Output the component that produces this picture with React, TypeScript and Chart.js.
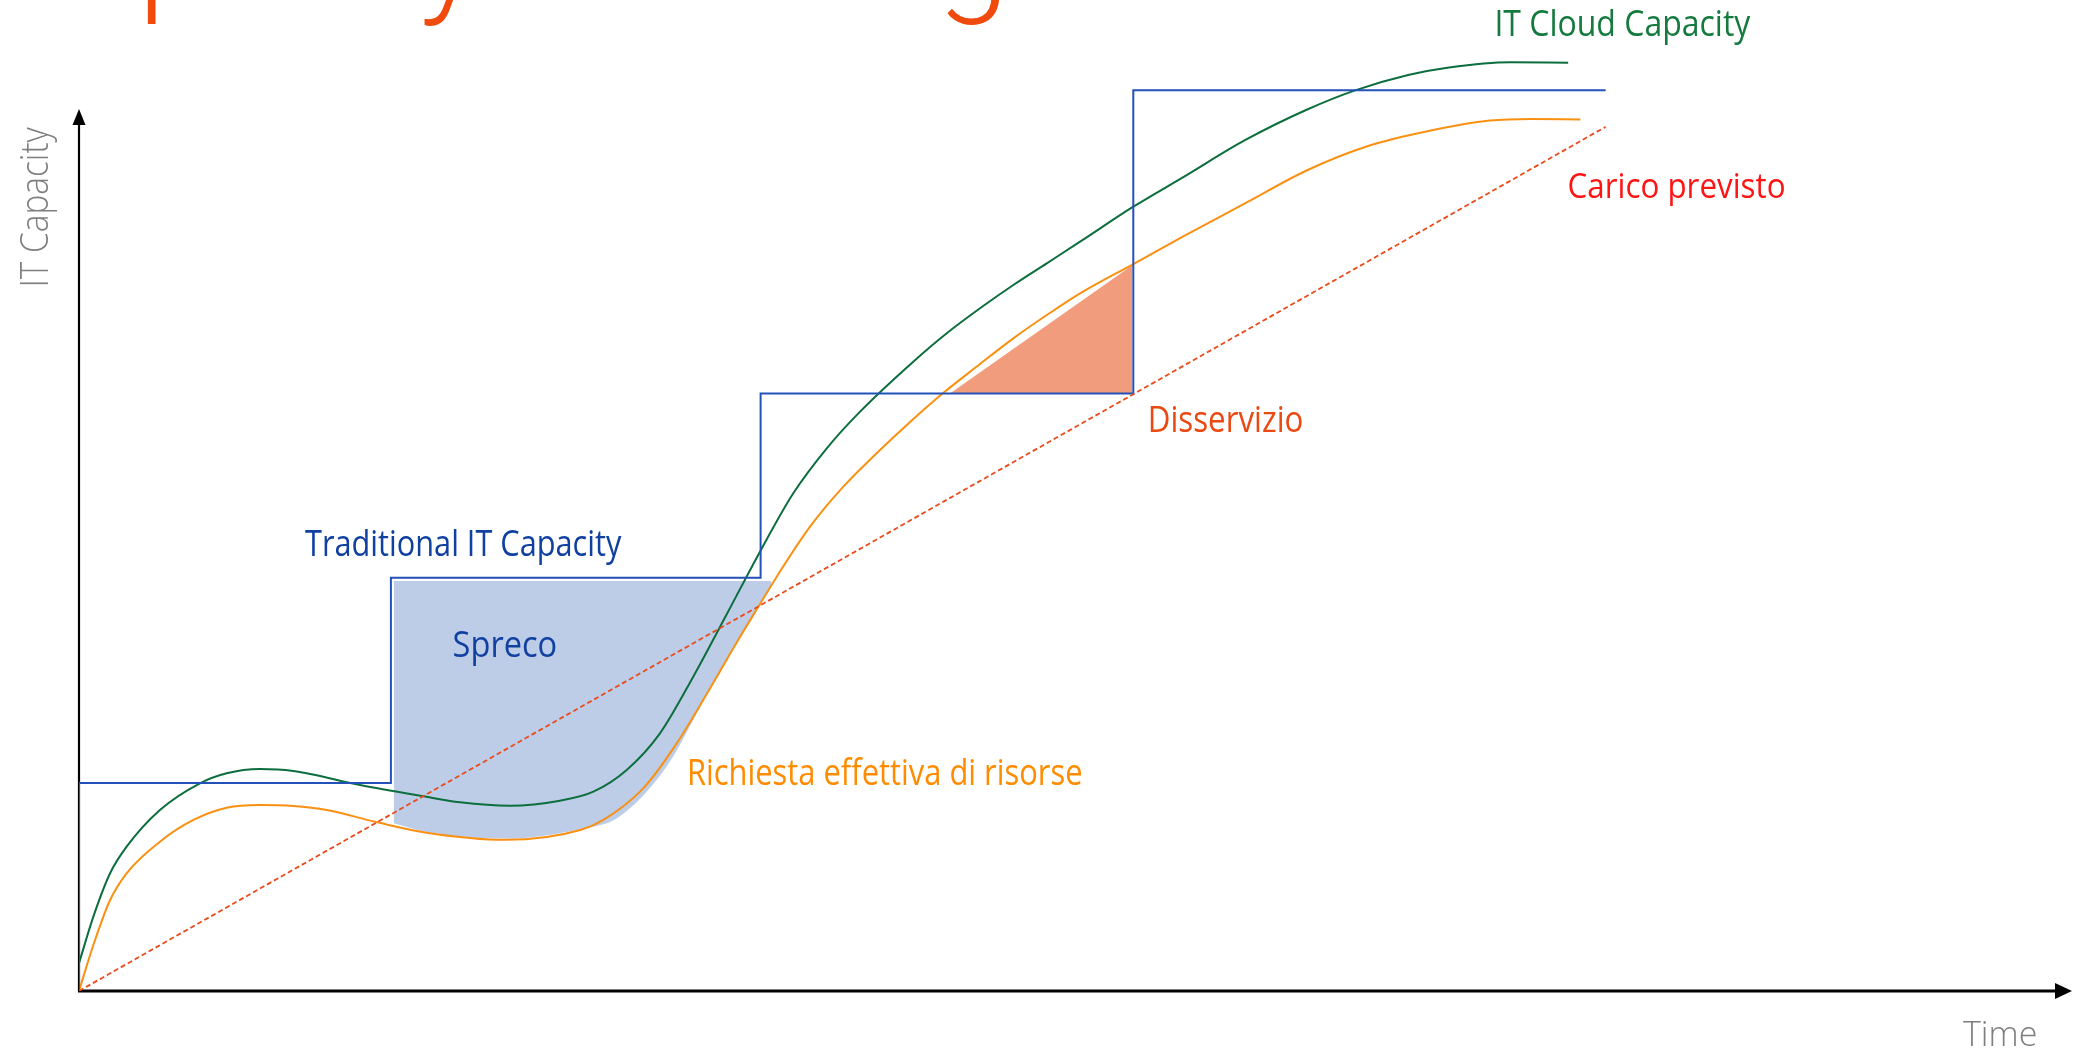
import React, { useEffect, useRef } from 'react';
import { Chart, registerables } from 'chart.js';

Chart.register(...registerables);

// ---------- data (time axis 0–100, capacity axis 0–100) ----------
const cloudTime = [0, 0.72, 1.56, 2.39, 4.06, 6.07, 7.41, 9.08, 10.75, 14.1, 17.2, 19.12, 21.63, 24.13, 25.81, 27.48, 29.15, 30.82, 32.5, 34.17, 35.84, 37.52, 39.19, 41.86, 43.54, 45.21, 46.88, 48.56, 50.23, 52.9, 55.43, 58.5, 61.57, 64.03, 66.69, 68.74, 71.81, 74.72];
const cloudCapacity = [2.8, 7.5, 11.88, 14.56, 18.26, 20.96, 21.97, 22.4, 22.2, 20.79, 19.68, 19.04, 18.7, 19.2, 20.11, 22.3, 26.0, 31.72, 38.02, 44.33, 50.22, 54.76, 58.46, 63.5, 66.37, 68.89, 71.24, 73.43, 75.61, 79.14, 82.15, 85.85, 88.9, 90.88, 92.43, 93.19, 93.72, 93.67];

const demandTime = [0, 0.72, 1.56, 2.39, 4.06, 5.74, 7.41, 9.08, 10.75, 12.43, 14.85, 17.45, 21.4, 25.2, 26.31, 28.31, 29.99, 31.66, 33.0, 34.17, 35.01, 36.68, 38.35, 40.02, 41.7, 43.33, 45.21, 46.88, 48.56, 50.23, 52.9, 55.43, 58.5, 61.57, 64.64, 67.72, 70.79, 72.84, 75.33];
const demandValues = [0, 4.64, 9.18, 11.88, 15.07, 17.26, 18.5, 18.77, 18.67, 18.26, 17.08, 15.97, 15.25, 16.27, 17.26, 20.45, 24.99, 30.53, 35.17, 39.05, 41.81, 46.85, 50.89, 54.26, 57.42, 60.29, 63.27, 65.86, 68.21, 70.4, 73.36, 76.18, 79.47, 82.77, 85.24, 86.78, 87.83, 87.99, 87.95];

const traditionalTime = [0, 0, 15.65, 34.2, 52.9, 76.6];
const traditionalCapacity = [0, 21.0, 41.7, 60.3, 90.9, 90.9];

const forecastTime = [0, 76.6];
const forecastLoad = [0, 87.2];

const wasteTime = [15.79, 17.45, 21.4, 25.2, 27.05, 29.5, 31.66, 33.0, 34.17, 34.75];
const wasteEdge = [16.92, 16.05, 15.38, 16.35, 17.5, 22.7, 30.53, 35.17, 39.05, 41.07];
const wasteCeiling = 41.37;

const outageTime = [43.7, 52.85];
const outageEdge = [60.29, 73.23];
const outageFloor = 60.29;

const axisTopY = 89.0;

const LABEL_FONT = '"Open Sans", "Noto Sans", sans-serif';
const labels = [
  { text: 'IT Cloud Capacity', x: 71.15, y: 96.34, width: 254, cap: 26, color: '#147A3E', weight: 400, rotate: false },
  { text: 'Carico previsto', x: 74.78, y: 79.99, width: 215, cap: 25.3, color: '#FF1414', weight: 400, rotate: false },
  { text: 'Disservizio', x: 53.75, y: 56.41, width: 152, cap: 26.5, color: '#EA4A12', weight: 400, rotate: false },
  { text: 'Traditional IT Capacity', x: 11.34, y: 43.9, width: 317, cap: 26, color: '#1040A0', weight: 400, rotate: false },
  { text: 'Spreco', x: 18.79, y: 33.66, width: 102, cap: 26, color: '#1040A0', weight: 400, rotate: false },
  { text: 'Richiesta effettiva di risorse', x: 30.63, y: 20.8, width: 392, cap: 25.7, color: '#FF8C00', weight: 400, rotate: false },
  { text: 'Time', x: 94.53, y: -5.58, width: 73, cap: 25.3, color: '#7F7F7F', weight: 300, rotate: false },
  { text: 'IT Capacity', x: -1.58, y: 71.24, width: 158, cap: 27.8, color: '#7F7F7F', weight: 300, rotate: true },
];

const pts = (xs: number[], ys: number[]) => xs.map((x, i) => ({ x, y: ys[i] }));

const decorPlugin = {
  id: 'decor',
  beforeDatasetsDraw(chart: any) {
    const { ctx } = chart;
    const sx = chart.scales.x;
    const sy = chart.scales.y;
    const x0 = sx.getPixelForValue(0);
    const y0 = sy.getPixelForValue(0);
    const yTop = sy.getPixelForValue(axisTopY);
    const xEnd = sx.getPixelForValue(100);
    ctx.save();
    ctx.strokeStyle = '#000';
    ctx.fillStyle = '#000';
    // y axis
    ctx.lineWidth = 2.2;
    ctx.beginPath();
    ctx.moveTo(x0, y0 + 1);
    ctx.lineTo(x0, yTop + 12);
    ctx.stroke();
    ctx.beginPath();
    ctx.moveTo(x0, yTop);
    ctx.lineTo(x0 - 6.5, yTop + 16);
    ctx.lineTo(x0 + 6.5, yTop + 16);
    ctx.closePath();
    ctx.fill();
    // x axis
    ctx.lineWidth = 3;
    ctx.beginPath();
    ctx.moveTo(x0 - 1, y0);
    ctx.lineTo(xEnd - 12, y0);
    ctx.stroke();
    ctx.beginPath();
    ctx.moveTo(xEnd, y0);
    ctx.lineTo(xEnd - 17, y0 - 8);
    ctx.lineTo(xEnd - 17, y0 + 8);
    ctx.closePath();
    ctx.fill();
    ctx.restore();
  },
  afterDatasetsDraw(chart: any) {
    const { ctx } = chart;
    const sx = chart.scales.x;
    const sy = chart.scales.y;
    labels.forEach((l) => {
      const px = sx.getPixelForValue(l.x);
      const py = sy.getPixelForValue(l.y);
      const size = l.cap / 0.714;
      ctx.save();
      ctx.font = `${l.weight} ${size}px ${LABEL_FONT}`;
      ctx.textAlign = 'left';
      ctx.textBaseline = 'alphabetic';
      const m = ctx.measureText(l.text);
      const ink = m.actualBoundingBoxLeft + m.actualBoundingBoxRight;
      const k = l.width / ink;
      ctx.translate(px, py);
      if (l.rotate) ctx.rotate(-Math.PI / 2);
      ctx.scale(k, 1);
      ctx.fillStyle = l.color;
      ctx.fillText(l.text, m.actualBoundingBoxLeft, 0);
      ctx.restore();
    });
  },
  afterDraw(chart: any) {
    // slide heading, clipped by the top edge of the page
    const { ctx } = chart;
    const text = 'Capacity Planning';
    const fam = 'Roboto, "Open Sans", sans-serif';
    let size = 130;
    ctx.save();
    ctx.font = `300 ${size}px ${fam}`;
    let wCa = ctx.measureText('Ca').width;
    let lsb = -ctx.measureText('p').actualBoundingBoxLeft;
    const right = ctx.measureText(text).actualBoundingBoxRight;
    const k = (1000 - 147) / (right - (wCa + lsb));
    size *= k;
    ctx.font = `300 ${size}px ${fam}`;
    wCa = ctx.measureText('Ca').width;
    lsb = -ctx.measureText('p').actualBoundingBoxLeft;
    const desc = ctx.measureText('g').actualBoundingBoxDescent;
    ctx.fillStyle = '#F04B0C';
    ctx.textAlign = 'left';
    ctx.textBaseline = 'alphabetic';
    ctx.fillText(text, 147 - (wCa + lsb), 25 - desc);
    ctx.restore();
  },
};

export default function App() {
  const canvasRef = useRef<HTMLCanvasElement | null>(null);

  useEffect(() => {
    if (!canvasRef.current) return;
    const chart = new Chart(canvasRef.current, {
      type: 'line',
      data: {
        datasets: [
          {
            label: 'Spreco',
            data: pts(wasteTime, wasteEdge),
            borderWidth: 0,
            borderColor: 'rgba(0,0,0,0)',
            backgroundColor: '#BDCDE8',
            fill: { value: wasteCeiling },
            cubicInterpolationMode: 'monotone',
            pointRadius: 0,
            order: 10,
          },
          {
            label: 'Disservizio',
            data: pts(outageTime, outageEdge),
            borderWidth: 0,
            borderColor: 'rgba(0,0,0,0)',
            backgroundColor: '#F29C7E',
            fill: { value: outageFloor },
            tension: 0,
            pointRadius: 0,
            order: 9,
          },
          {
            label: 'Richiesta effettiva di risorse',
            data: pts(demandTime, demandValues),
            borderColor: '#FA9012',
            borderWidth: 2,
            cubicInterpolationMode: 'monotone',
            fill: false,
            pointRadius: 0,
            order: 4,
          },
          {
            label: 'IT Cloud Capacity',
            data: pts(cloudTime, cloudCapacity),
            borderColor: '#0C6E3D',
            borderWidth: 2,
            cubicInterpolationMode: 'monotone',
            fill: false,
            pointRadius: 0,
            order: 3,
          },
          {
            label: 'Traditional IT Capacity',
            data: pts(traditionalTime, traditionalCapacity),
            borderColor: '#2252B8',
            borderWidth: 2,
            stepped: true,
            borderJoinStyle: 'miter',
            fill: false,
            pointRadius: 0,
            order: 2,
          },
          {
            label: 'Carico previsto',
            data: pts(forecastTime, forecastLoad),
            borderColor: '#EA4B1C',
            borderWidth: 1.8,
            borderDash: [5, 3],
            fill: false,
            pointRadius: 0,
            order: 1,
          },
        ],
      },
      options: {
        animation: false,
        responsive: true,
        maintainAspectRatio: false,
        events: [],
        layout: { padding: { left: 79, right: 2, top: 0, bottom: 63 } },
        scales: {
          x: { type: 'linear', min: 0, max: 100, display: false },
          y: { type: 'linear', min: 0, max: 100, display: false },
        },
        plugins: {
          legend: { display: false },
          tooltip: { enabled: false },
          title: { display: false },
        },
        elements: { point: { radius: 0 } },
      },
      plugins: [decorPlugin],
    } as any);
    return () => chart.destroy();
  }, []);

  return (
    <div
      style={{
        position: 'fixed',
        left: 0,
        top: 0,
        width: '2074px',
        height: '1054px',
        background: '#ffffff',
        overflow: 'hidden',
      }}
    >
      <canvas ref={canvasRef} />
    </div>
  );
}
